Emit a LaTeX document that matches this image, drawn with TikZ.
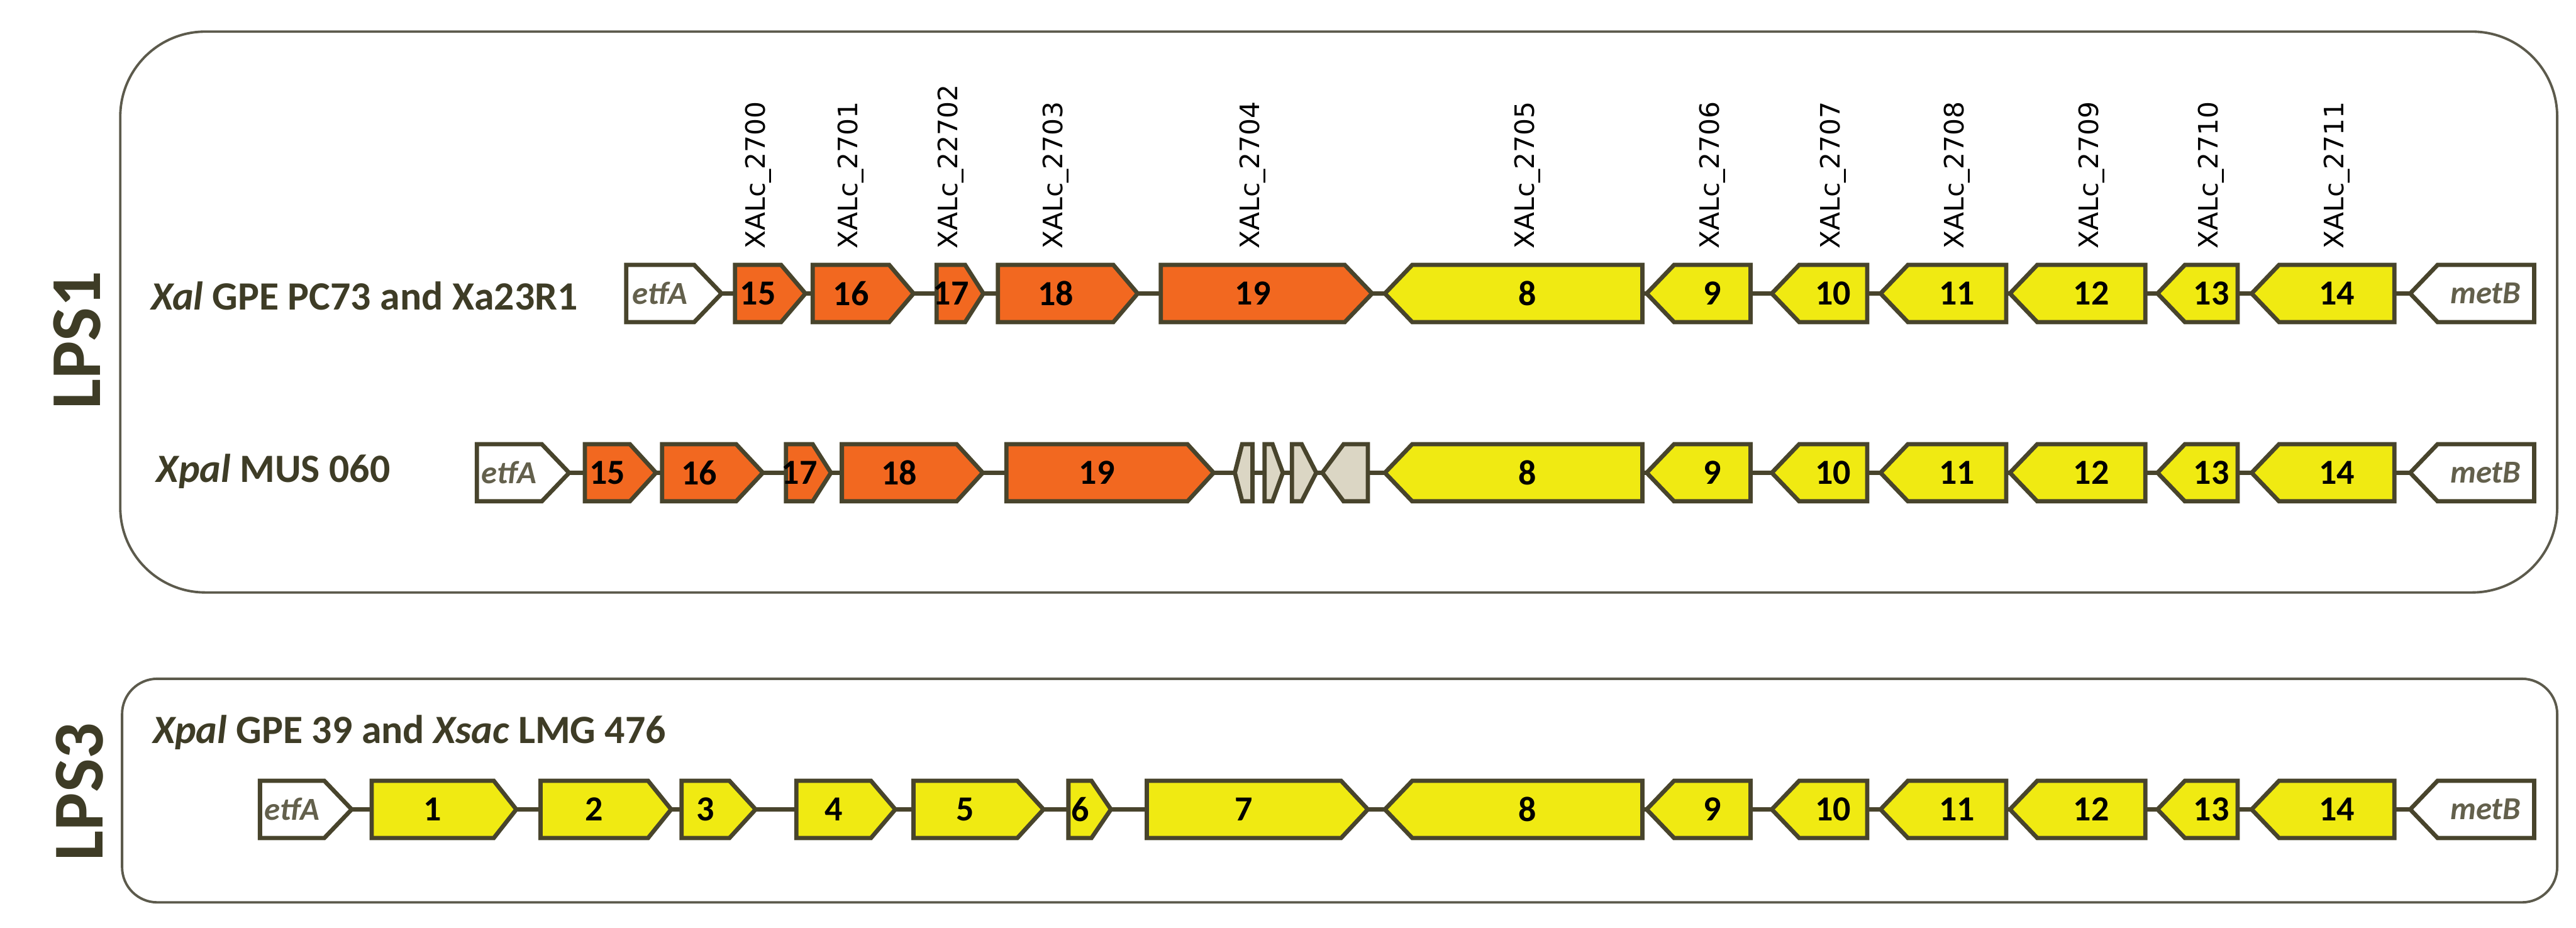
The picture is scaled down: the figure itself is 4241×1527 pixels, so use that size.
\documentclass[tikz,border=0pt]{standalone}
\usepackage{fontspec}
\setmainfont{Carlito}
\newfontfamily\tagfont{DejaVu Sans}
\usetikzlibrary{positioning,backgrounds}
\definecolor{geneOrange}{RGB}{242,104,32}
\definecolor{geneYellow}{RGB}{240,234,18}
\definecolor{geneGrey}{RGB}{219,214,196}
\definecolor{mLine}{RGB}{72,68,44}
\definecolor{mBox}{RGB}{92,90,76}
\definecolor{mText}{RGB}{62,60,38}

\begin{document}
\begin{tikzpicture}[x=0.1mm, y=-0.1mm,
    gene/.style={draw=mLine, line width=0.7mm, line join=miter},
    backbone/.style={draw=mLine, line width=0.7mm},
    panel/.style={draw=mBox, line width=0.4mm},
    num/.style={font=\fontsize{16.5}{17}\selectfont\bfseries, text=black, inner sep=0pt},
    flank/.style={font=\fontsize{15}{16}\selectfont\bfseries\itshape, text=mLine!85, inner sep=0pt},
    tag/.style={font=\tagfont\fontsize{12.5}{14}\selectfont, rotate=90, anchor=west, inner sep=0pt},
    strain/.style={font=\fontsize{18.8}{20}\selectfont\bfseries, text=mText, anchor=west, inner sep=0pt},
    lps/.style={font=\fontsize{33.5}{36}\selectfont\bfseries, text=mText, rotate=90, inner sep=0pt}]
    \useasboundingbox (0,0) rectangle (4241,1527);

    % panels
    \draw[panel, rounded corners=1.4cm] (198,52) rectangle (4210,975);
    \draw[panel, rounded corners=0.58cm] (201,1117) rectangle (4210,1485);
    \node[lps] (lps1) at (127,560) {LPS1};
    \node[lps] (lps3) at (131,1303) {LPS3};

    \node[strain] (sa) at (248,487) {{\itshape Xal} GPE PC73 and Xa23R1};
    \node[strain] (sb) at (257,776) {{\itshape Xpal} MUS 060};
    \node[strain] (sc) at (251,1205) {{\itshape Xpal} GPE 39 and {\itshape Xsac} LMG 476};
    \coordinate (tagline) at (0,410);

    % flanking genes etfA / metB
    \foreach \r/\yc/\a/\b in {a/483/1031/1188, b/778/785/937, c/1332/428/579} {
      \draw[gene, fill=white] (\a,\yc-47) -- (\b-45,\yc-47) -- (\b,\yc) -- (\b-45,\yc+47) -- (\a,\yc+47) -- cycle;
      \node[flank] (\r etfA) at ({(\a+\b-45)/2},\yc) {etfA};
      \draw[gene, fill=white] (3968,\yc) -- (4013,\yc-47) -- (4172,\yc-47) -- (4172,\yc+47) -- (4013,\yc+47) -- cycle;
      \node[flank] (\r metB) at (4092,\yc) {metB};
      % genes 8-14, same in all three clusters
      \foreach \s/\e/\n in {2280/2704/8, 2711/2882/9, 2917/3074/10, 3096/3303/11, 3309/3532/12, 3552/3684/13, 3707/3942/14} {
        \draw[gene, fill=geneYellow] (\s,\yc) -- (\s+45,\yc-47) -- (\e,\yc-47) -- (\e,\yc+47) -- (\s+45,\yc+47) -- cycle;
        \node[num] (\r\n) at ({(\s+45+\e)/2},\yc) {\n};
      }
    }

    % LPS1, Xal
    \foreach \s/\e/\t/\n/\g in {1210/1326/40/15/2700, 1338/1504/40/16/2701, 1542/1619/30/17/22702, 1643/1873/40/18/2703, 1911/2259/45/19/2704} {
      \draw[gene, fill=geneOrange] (\s,436) -- (\e-\t,436) -- (\e,483) -- (\e-\t,530) -- (\s,530) -- cycle;
      \node[num] (a\n) at ({(\s+\e-\t)/2},483) {\n};
      \node[tag] at (a\n |- tagline) {XALc\_\g};
    }
    \foreach \n in {8,...,14} {
      \pgfmathtruncatemacro\g{2697+\n}
      \node[tag] at (a\n |- tagline) {XALc\_\g};
    }

    % LPS1, Xpal
    \foreach \s/\e/\t/\n in {963/1080/43/15, 1090/1256/44/16, 1294/1368/30/17, 1386/1618/43/18, 1657/1998/43/19} {
      \draw[gene, fill=geneOrange] (\s,731) -- (\e-\t,731) -- (\e,778) -- (\e-\t,825) -- (\s,825) -- cycle;
      \node[num] (b\n) at ({(\s+\e-\t)/2},778) {\n};
    }
    \draw[gene, fill=geneGrey] (2033,778) -- (2045,731) -- (2062,731) -- (2062,825) -- (2045,825) -- cycle;
    \draw[gene, fill=geneGrey] (2082,731) -- (2095,731) -- (2112,778) -- (2095,825) -- (2082,825) -- cycle;
    \draw[gene, fill=geneGrey] (2127,731) -- (2143,731) -- (2167,778) -- (2143,825) -- (2127,825) -- cycle;
    \draw[gene, fill=geneGrey] (2177,778) -- (2212,731) -- (2252,731) -- (2252,825) -- (2212,825) -- cycle;

    % LPS3
    \foreach \s/\e/\t/\n in {612/850/37/1, 890/1105/38/2, 1122/1244/43/3, 1311/1474/40/4, 1504/1718/43/5, 1759/1829/32/6, 1888/2252/44/7} {
      \draw[gene, fill=geneYellow] (\s,1285) -- (\e-\t,1285) -- (\e,1332) -- (\e-\t,1379) -- (\s,1379) -- cycle;
      \node[num] (c\n) at ({(\s+\e-\t)/2},1332) {\n};
    }

    \begin{scope}[on background layer]
      \draw[backbone] (aetfA) -- (ametB);
      \draw[backbone] (betfA) -- (bmetB);
      \draw[backbone] (cetfA) -- (cmetB);
    \end{scope}
\end{tikzpicture}
\end{document}
